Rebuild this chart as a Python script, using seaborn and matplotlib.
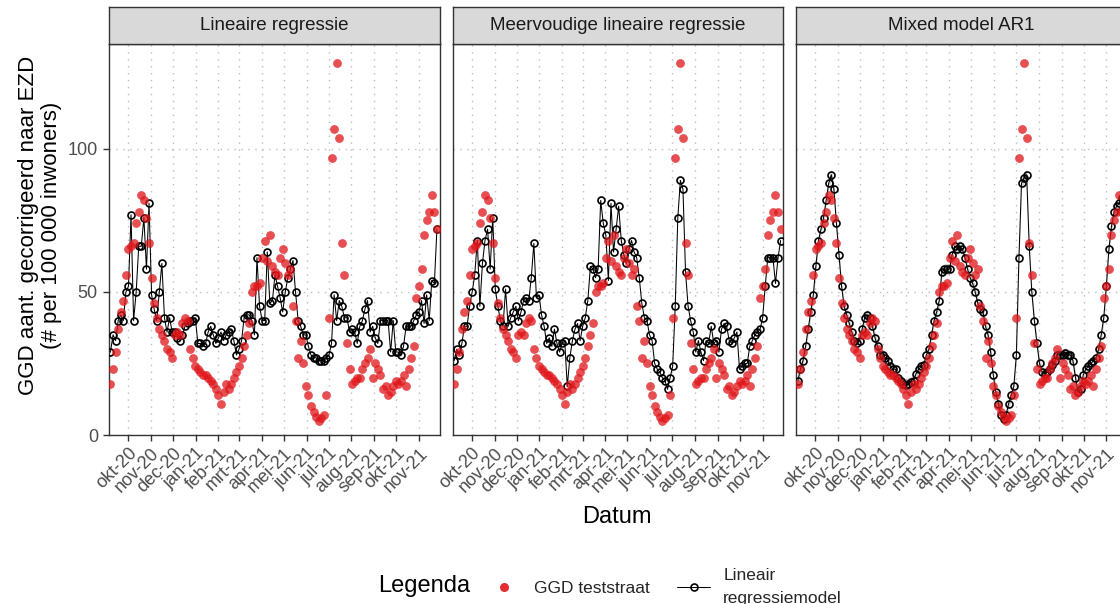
import numpy as np
import pandas as pd
import matplotlib
matplotlib.use("Agg")
import matplotlib.pyplot as plt
from matplotlib.lines import Line2D
from matplotlib.transforms import ScaledTranslation
import seaborn as sns

# Measurement dates (twice a week)
dates = pd.date_range("2020-09-07", periods=128, freq="84h")

# GGD test street counts, corrected to first day of illness (per 100 000 inhabitants)
ggd_teststraat = [
    18, 23, 29, 37, 43, 47, 56, 65, 66, 67,
    74, 78, 84, 82, 76, 67, 55, 46, 41, 37,
    35, 33, 30, 29, 27, 35, 36, 35, 39, 41,
    40, 30, 27, 24, 23, 22, 21, 21, 20, 19,
    18, 16, 14, 11, 15, 18, 16, 18, 20, 22,
    24, 27, 31, 35, 39, 50, 52, 52, 53, 62,
    68, 61, 70, 59, 57, 56, 62, 65, 60, 56,
    58, 45, 40, 27, 33, 25, 17, 14, 10, 8,
    6.4, 5, 5.8, 7, 14, 41, 97, 107, 130, 104,
    67, 56, 32, 23, 18, 19, 20, 20, 23, 25,
    27, 30, 20, 25, 23, 21, 16, 17, 14, 15,
    17, 19, 18, 19, 21, 17, 23, 27, 31, 48,
    52, 58, 70, 75, 78, 84, 78, 72,
]

# Model predictions
lineaire_regressie = [
    29, 35, 33, 40, 42, 40, 50, 52, 77, 40,
    50, 66, 66, 76, 58, 81, 49, 44, 40, 50,
    60, 41, 36, 41, 36, 36, 34, 33, 35, 38,
    39, 40, 40, 41, 32, 32, 31, 32, 36, 38,
    35, 32, 34, 36, 33, 35, 36, 37, 33, 28,
    30, 33, 41, 42, 42, 40, 35, 62, 45, 40,
    40, 64, 46, 47, 56, 52, 48, 43, 50, 55,
    58, 61, 50, 40, 38, 35, 35, 31, 28, 27,
    27, 26, 26, 26, 27, 28, 32, 49, 40, 47,
    45, 41, 41, 36, 37, 36, 32, 38, 40, 44,
    47, 36, 38, 34, 32, 40, 40, 40, 40, 29,
    40, 29, 29, 28, 31, 38, 38, 38, 40, 42,
    43, 47, 39, 49, 40, 54, 53, 72,
]

meervoudige_regressie = [
    26, 30, 28, 32, 38, 38, 45, 50, 56, 68,
    45, 60, 68, 72, 58, 76, 51, 45, 40, 38,
    51, 38, 41, 43, 45, 40, 43, 47, 48, 47,
    55, 67, 48, 49, 42, 38, 32, 34, 31, 37,
    32, 29, 32, 33, 17, 27, 33, 37, 39, 33,
    38, 41, 47, 59, 58, 55, 58, 82, 74, 70,
    54, 81, 64, 72, 80, 68, 63, 60, 65, 68,
    64, 62, 55, 46, 41, 40, 35, 33, 25, 23,
    22, 20, 19, 16, 20, 24, 45, 76, 89, 86,
    57, 45, 40, 36, 29, 33, 29, 26, 33, 32,
    38, 32, 33, 29, 37, 39, 38, 33, 32, 34,
    36, 23, 24, 25, 25, 31, 33, 35, 36, 37,
    41, 52, 62, 62, 62, 53, 62, 68,
]

mixed_model_ar1 = [
    19, 23, 26, 31, 37, 43, 49, 59, 68, 72,
    76, 82, 88, 91, 86, 74, 63, 52, 45, 42,
    39, 36, 33, 32, 33, 37, 41, 42, 41, 38,
    34, 31, 28, 28, 27, 26, 24, 23, 23, 20,
    19, 18, 17.5, 18, 18.5, 19, 21.5, 23, 24, 24.5,
    28, 30, 35, 40, 43, 47, 57, 58, 58, 58,
    63, 66, 65, 66, 65, 62, 58, 55, 53, 50,
    46, 44, 43, 38, 35, 29, 21, 15, 11, 7,
    5.5, 7, 11, 14, 17, 28, 62, 88, 90, 91,
    66, 50, 40, 32, 25, 22, 21.5, 22, 23, 24.5,
    26, 28, 28, 28, 28.5, 28, 28, 26, 20, 15,
    16, 21, 23, 24, 25, 26, 27, 30, 35, 41,
    52, 65, 73, 78, 80, 81, 83, 84,
]
ar1_band = 2.0

panel_titles = ["Lineaire regressie", "Meervoudige lineaire regressie", "Mixed model AR1"]
panel_series = [lineaire_regressie, meervoudige_regressie, mixed_model_ar1]

month_ticks = pd.date_range("2020-10-01", "2021-11-01", freq="MS")
month_labels = ["okt-20", "nov-20", "dec-20", "jan-21", "feb-21", "mrt-21", "apr-21",
                "mei-21", "jun-21", "jul-21", "aug-21", "sep-21", "okt-21", "nov-21"]
y_ticks = [0, 50, 100]
x_range = (pd.Timestamp("2020-09-05"), pd.Timestamp("2021-11-29"))
y_range = (0, 136.7)

sns.set_theme(style="white")
plt.rcParams["font.family"] = ["Liberation Sans", "DejaVu Sans"]

RED = "#E0161A"
BORDER = "#333333"
TICKTXT = "#4D4D4D"
GRIDC = "#BDBDBD"

W, H = 1120, 604
fig = plt.figure(figsize=(W / 100, H / 100), dpi=100)

panel_left = [109, 452.7, 796.4]
panel_w = 330.5
p_top, p_bottom, s_top = 44, 435, 7.3
label_shift = ScaledTranslation(8 / 100, 0, fig.dpi_scale_trans)

for k, (title, series) in enumerate(zip(panel_titles, panel_series)):
    x0 = panel_left[k]
    ax = fig.add_axes([x0 / W, 1 - p_bottom / H, panel_w / W, (p_bottom - p_top) / H])
    ax.set_facecolor("white")

    if k == 2:
        vals = np.asarray(series, dtype=float)
        ax.fill_between(dates, vals - ar1_band, vals + ar1_band,
                        color="grey", alpha=0.35, linewidth=0, zorder=2)

    sns.lineplot(x=dates, y=series, ax=ax, color="black", linewidth=0.75,
                 marker="o", markersize=5.0, markerfacecolor="none",
                 markeredgecolor="black", markeredgewidth=1.2, zorder=3)
    sns.scatterplot(x=dates, y=ggd_teststraat, ax=ax, color=RED, alpha=0.75,
                    s=40, linewidth=0, zorder=4)

    ax.set_xlim(*x_range)
    ax.set_ylim(*y_range)
    ax.set_xticks(month_ticks)
    ax.set_xticklabels(month_labels, rotation=45, ha="right", va="top",
                       rotation_mode="anchor")
    for lab in ax.get_xticklabels():
        lab.set_transform(lab.get_transform() + label_shift)
    ax.set_yticks(y_ticks)
    ax.grid(True, color=GRIDC, linestyle=(0, (1, 4)), linewidth=1.0)
    ax.set_axisbelow(True)
    ax.set_xlabel("")
    ax.set_ylabel("")
    ax.tick_params(axis="x", length=4, width=1, color=BORDER, labelcolor=TICKTXT,
                   labelsize=13, pad=3, bottom=True)
    if k == 0:
        ax.set_yticklabels([str(v) for v in y_ticks])
        ax.tick_params(axis="y", length=4, width=1, color=BORDER, labelcolor=TICKTXT,
                       labelsize=13, pad=4, left=True)
    else:
        ax.tick_params(axis="y", length=0, labelleft=False)
    for sp in ax.spines.values():
        sp.set_color(BORDER)
        sp.set_linewidth(1.0)
    if ax.get_legend() is not None:
        ax.get_legend().remove()

    sax = fig.add_axes([x0 / W, 1 - p_top / H, panel_w / W, (p_top - s_top) / H])
    sax.set_facecolor("#D9D9D9")
    sax.set_xticks([])
    sax.set_yticks([])
    for sp in sax.spines.values():
        sp.set_color(BORDER)
        sp.set_linewidth(1.0)
    sax.text(0.5, 0.5, title, ha="center", va="center", fontsize=13.5,
             color="#1A1A1A", transform=sax.transAxes)

fig.text(40 / W, 1 - 225 / H, "GGD aant. gecorrigeerd naar EZD\n(# per 100 000 inwoners)",
         rotation=90, ha="center", va="center", fontsize=16, multialignment="center",
         color="black", linespacing=1.1)
fig.text(617 / W, 1 - 517 / H, "Datum", ha="center", va="center", fontsize=17,
         color="black")

fig.text(378 / W, 1 - 586 / H, "Legenda", ha="left", va="center", fontsize=17,
         color="black")
handles = [
    Line2D([], [], linestyle="none", marker="o", color=RED, alpha=0.9,
           markersize=6.5, markeredgewidth=0),
    Line2D([], [], color="black", linewidth=0.75, marker="o", markersize=5.0,
           markerfacecolor="none", markeredgecolor="black", markeredgewidth=1.2),
]
leg = fig.legend(handles, ["GGD teststraat", "Lineair\nregressiemodel"], loc="center left",
                 bbox_to_anchor=(472 / W, 1 - 587 / H), ncol=2, frameon=False, fontsize=12.5,
                 handlelength=1.9, handletextpad=0.75, columnspacing=1.6, borderpad=0.4)
for t in leg.get_texts():
    t.set_linespacing(1.65)

fig.savefig("out.png", dpi=100)
